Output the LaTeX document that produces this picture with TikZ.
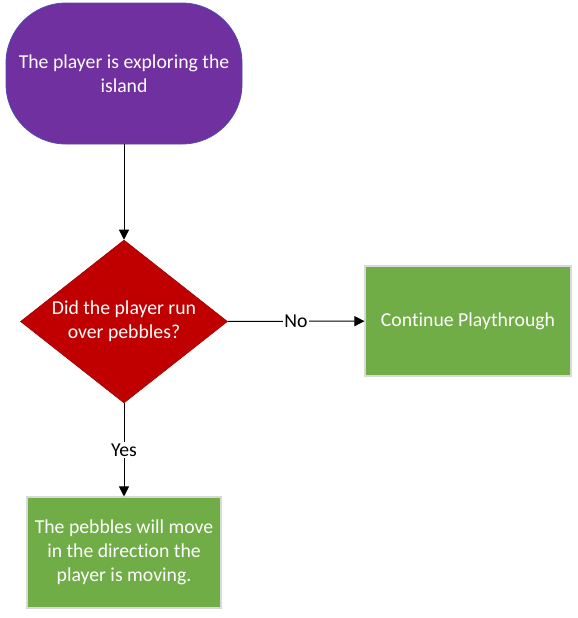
\documentclass[tikz,border=0pt]{standalone}
\usepackage{fontspec}
\setmainfont[Ligatures={NoCommon,NoRare}]{Carlito}
\usepackage{xcolor}
\usetikzlibrary{shapes.geometric, arrows.meta}

\definecolor{startpurple}{HTML}{7030A0}
\definecolor{checkred}{HTML}{C00000}
\definecolor{boxgreen}{HTML}{70AD47}

\begin{document}
\begin{tikzpicture}[
  x=0.75pt, y=-0.75pt,
  every node/.style={font=\fontsize{14.8}{18}\selectfont, align=center},
  terminal/.style={draw=blue!40!gray, line width=0.6pt, fill=startpurple, text=white,
    rounded corners=45pt, minimum width=177pt, minimum height=105.75pt},
  decision/.style={diamond, draw=checkred!80!black, line width=0.4pt, fill=checkred, text=white,
    inner sep=0pt, aspect=1.27, minimum width=155.25pt, minimum height=122.25pt},
  process/.style={draw=gray!30, line width=0.8pt, fill=boxgreen, text=white},
  flow/.style={-{Triangle[length=7.5pt,width=7.5pt]}, line width=0.75pt},
  answer/.style={fill=white, text=black, inner sep=1pt}
]
\useasboundingbox (0,0) rectangle (578,618);

\node[terminal] (start) at (124,73.5) {The player is exploring the\\island};
\node[decision] (check) at (124,321.5) {Did the player run\\over pebbles?};
\node[process, minimum width=154.5pt, minimum height=82.5pt] (cont) at (468,321) {Continue Playthrough};
\node[process, minimum width=145.5pt, minimum height=83.25pt] (move) at (124,552.5)
  {The pebbles will move\\in the direction the\\player is moving.};

\draw[flow] (start) -- (check);
\draw[flow] (check) -- node[answer, pos=0.5] (no) {No} (cont);
\draw[flow] (check) -- node[answer, pos=0.5] (yes) {Yes} (move);
\end{tikzpicture}
\end{document}
